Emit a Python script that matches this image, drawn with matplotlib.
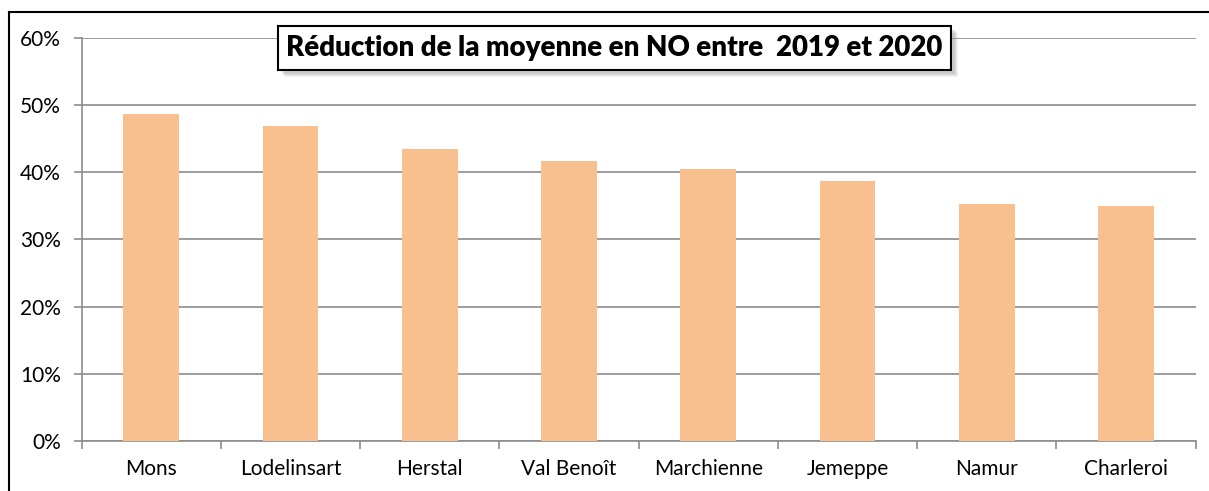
import numpy as np
import matplotlib
matplotlib.use('Agg')
import matplotlib.pyplot as plt
from matplotlib.patches import Rectangle
from matplotlib.lines import Line2D
from matplotlib.ticker import FuncFormatter, MultipleLocator, FixedLocator

# data
stations = ['Mons', 'Lodelinsart', 'Herstal', 'Val Benoît', 'Marchienne',
            'Jemeppe', 'Namur', 'Charleroi']
reduction = [48.7, 46.9, 43.5, 41.7, 40.5, 38.7, 35.3, 34.9]
title = 'Réduction de la moyenne en NO entre  2019 et 2020'

W, H = 1209, 491
plt.rcParams['font.family'] = ['Lato', 'DejaVu Sans']

fig = plt.figure(figsize=(W / 100, H / 100), dpi=100)

def fx(px):
    return px / W

def fy(py):
    return 1 - py / H

# outer frame (left and top edges visible)
fig.add_artist(Line2D([fx(9), fx(9)], [fy(12), 0], color='black', lw=1.5,
                      transform=fig.transFigure))
fig.add_artist(Line2D([fx(9), 1], [fy(12), fy(12)], color='black', lw=1.5,
                      transform=fig.transFigure))

left, right, top, bottom = 81.7, 1195.7, 37.7, 441
ax = fig.add_axes([fx(left), fy(bottom), fx(right - left), (bottom - top) / H])

x = np.arange(len(stations))
ax.bar(x, reduction, width=0.40, color='#F9C08F', zorder=3)

ax.set_xlim(-0.5, len(stations) - 0.5)
ax.set_ylim(0, 60)
ax.yaxis.set_major_locator(MultipleLocator(10))
ax.yaxis.set_major_formatter(FuncFormatter(lambda v, p: '%d%%' % v))
ax.grid(axis='y', color='#8c8c8c', lw=1.2, zorder=0)

ax.set_xticks(x)
ax.set_xticklabels(stations)
ax.xaxis.set_minor_locator(FixedLocator(np.arange(len(stations) + 1) - 0.5))
ax.tick_params(axis='x', which='major', length=0, pad=13, labelsize=15, colors='black')
ax.tick_params(axis='x', which='minor', length=6, color='#8c8c8c', width=1.2)
ax.tick_params(axis='y', length=6, color='#8c8c8c', width=1.2, pad=9,
               labelsize=15)

for s in ['top', 'right']:
    ax.spines[s].set_visible(False)
for s in ['left', 'bottom']:
    ax.spines[s].set_color('#8c8c8c')
    ax.spines[s].set_linewidth(1.2)

# title box with soft shadow
bx0, bx1, by0, by1 = 278, 951, 26, 70
for i, a in enumerate([0.10, 0.10, 0.12, 0.15]):
    off = 7 - i
    fig.add_artist(Rectangle((fx(bx0 + off), fy(by1 + off)), fx(bx1 - bx0),
                             (by1 - by0) / H, transform=fig.transFigure,
                             facecolor='gray', edgecolor='none', alpha=a, zorder=5))
fig.add_artist(Rectangle((fx(bx0), fy(by1)), fx(bx1 - bx0), (by1 - by0) / H,
                         transform=fig.transFigure, facecolor='white',
                         edgecolor='black', lw=1.5, zorder=6))
fig.text(fx((bx0 + bx1) / 2), fy((by0 + by1) / 2), title, ha='center',
         va='center', fontsize=19.9, fontweight='heavy', zorder=7)

fig.savefig('out.png', dpi=100)
